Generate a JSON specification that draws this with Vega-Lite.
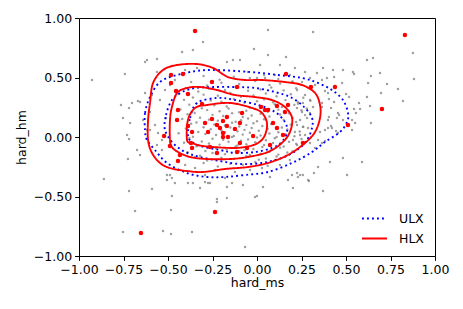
{
"$schema":"https://vega.github.io/schema/vega-lite/v6.json",
"autosize":"none","width":356,"height":238,
"padding":{"left":79,"top":18,"right":28,"bottom":53},
"background":"white",
"config":{"view":{"stroke":"black","strokeWidth":1},
"axis":{"labelFont":"DejaVu Sans","labelFontSize":12.5,"titleFont":"DejaVu Sans","titleFontSize":12.5,"titleFontWeight":"normal","labelColor":"black","titleColor":"black","tickColor":"black","domain":false,"grid":false,"tickSize":4.4,"tickWidth":1,"labelPadding":3,"labelFlush":false,"labelOverlap":false},
"legend":{"labelFont":"DejaVu Sans","labelFontSize":12.5,"labelColor":"black"}},
"datasets":{
"grey":[
{"x":-0.30,"y":0.512},{"x":-0.21,"y":0.482},{"x":-0.13,"y":0.506},{"x":-0.04,"y":0.496},{"x":0.04,"y":0.52},{"x":0.12,"y":0.488},
{"x":-0.37,"y":0.462},{"x":-0.28,"y":0.432},{"x":-0.20,"y":0.456},{"x":-0.10,"y":0.446},{"x":-0.01,"y":0.47},{"x":0.07,"y":0.438},{"x":0.13,"y":0.45},{"x":0.20,"y":0.466},
{"x":-0.40,"y":0.412},{"x":-0.33,"y":0.382},{"x":-0.27,"y":0.406},{"x":-0.18,"y":0.396},{"x":-0.12,"y":0.42},{"x":-0.05,"y":0.388},{"x":0.02,"y":0.40},{"x":0.08,"y":0.416},{"x":0.15,"y":0.392},{"x":0.22,"y":0.41},
{"x":-0.44,"y":0.362},{"x":-0.36,"y":0.332},{"x":-0.30,"y":0.356},{"x":-0.22,"y":0.346},{"x":-0.15,"y":0.37},{"x":-0.09,"y":0.338},{"x":-0.02,"y":0.35},{"x":0.05,"y":0.366},{"x":0.11,"y":0.342},{"x":0.19,"y":0.36},{"x":0.26,"y":0.33},
{"x":-0.41,"y":0.312},{"x":-0.34,"y":0.282},{"x":-0.26,"y":0.306},{"x":-0.20,"y":0.296},{"x":-0.13,"y":0.32},{"x":-0.07,"y":0.288},{"x":0.00,"y":0.30},{"x":0.04,"y":0.316},{"x":0.09,"y":0.292},{"x":0.16,"y":0.31},{"x":0.23,"y":0.28},{"x":0.30,"y":0.304},
{"x":-0.38,"y":0.272},{"x":-0.31,"y":0.242},{"x":-0.24,"y":0.266},{"x":-0.17,"y":0.256},{"x":-0.11,"y":0.28},{"x":-0.04,"y":0.248},{"x":0.03,"y":0.26},{"x":0.10,"y":0.276},{"x":0.14,"y":0.252},{"x":0.21,"y":0.27},{"x":0.28,"y":0.24},
{"x":-0.43,"y":0.232},{"x":-0.35,"y":0.202},{"x":-0.28,"y":0.226},{"x":-0.21,"y":0.216},{"x":-0.16,"y":0.24},{"x":-0.10,"y":0.208},{"x":-0.06,"y":0.22},{"x":-0.01,"y":0.236},{"x":0.06,"y":0.212},{"x":0.12,"y":0.23},{"x":0.18,"y":0.20},{"x":0.25,"y":0.224},
{"x":-0.39,"y":0.192},{"x":-0.32,"y":0.162},{"x":-0.25,"y":0.186},{"x":-0.19,"y":0.176},{"x":-0.14,"y":0.20},{"x":-0.08,"y":0.168},{"x":-0.03,"y":0.18},{"x":0.02,"y":0.196},{"x":0.07,"y":0.172},{"x":0.13,"y":0.19},{"x":0.20,"y":0.16},{"x":0.27,"y":0.184},
{"x":-0.42,"y":0.152},{"x":-0.34,"y":0.122},{"x":-0.27,"y":0.146},{"x":-0.22,"y":0.136},{"x":-0.17,"y":0.16},{"x":-0.12,"y":0.128},{"x":-0.09,"y":0.14},{"x":-0.05,"y":0.156},{"x":0.00,"y":0.132},{"x":0.04,"y":0.15},{"x":0.09,"y":0.12},{"x":0.15,"y":0.144},{"x":0.22,"y":0.126},
{"x":-0.37,"y":0.112},{"x":-0.30,"y":0.082},{"x":-0.24,"y":0.106},{"x":-0.18,"y":0.096},{"x":-0.14,"y":0.12},{"x":-0.10,"y":0.088},{"x":-0.06,"y":0.10},{"x":-0.02,"y":0.116},{"x":0.03,"y":0.092},{"x":0.08,"y":0.11},{"x":0.14,"y":0.08},{"x":0.19,"y":0.104},{"x":0.26,"y":0.086},
{"x":-0.40,"y":0.072},{"x":-0.33,"y":0.042},{"x":-0.26,"y":0.066},{"x":-0.20,"y":0.056},{"x":-0.15,"y":0.08},{"x":-0.11,"y":0.048},{"x":-0.07,"y":0.06},{"x":-0.03,"y":0.076},{"x":0.01,"y":0.052},{"x":0.06,"y":0.07},{"x":0.12,"y":0.04},{"x":0.17,"y":0.064},{"x":0.24,"y":0.046},
{"x":-0.44,"y":0.032},{"x":-0.36,"y":0.002},{"x":-0.29,"y":0.026},{"x":-0.23,"y":0.016},{"x":-0.18,"y":0.04},{"x":-0.13,"y":0.008},{"x":-0.08,"y":0.02},{"x":-0.04,"y":0.036},{"x":0.02,"y":0.012},{"x":0.07,"y":0.03},{"x":0.11,"y":0.0},{"x":0.16,"y":0.024},{"x":0.21,"y":0.006},
{"x":-0.38,"y":-0.008},{"x":-0.31,"y":-0.038},{"x":-0.25,"y":-0.014},{"x":-0.19,"y":-0.024},{"x":-0.14,"y":0.0},{"x":-0.09,"y":-0.032},{"x":-0.05,"y":-0.02},{"x":0.00,"y":-0.004},{"x":0.05,"y":-0.028},{"x":0.10,"y":-0.01},{"x":0.18,"y":-0.04},{"x":0.25,"y":-0.016},
{"x":-0.41,"y":-0.048},{"x":-0.34,"y":-0.078},{"x":-0.27,"y":-0.054},{"x":-0.21,"y":-0.064},{"x":-0.16,"y":-0.04},{"x":-0.11,"y":-0.072},{"x":-0.06,"y":-0.06},{"x":-0.01,"y":-0.044},{"x":0.04,"y":-0.068},{"x":0.09,"y":-0.05},{"x":0.15,"y":-0.08},{"x":0.22,"y":-0.056},
{"x":-0.36,"y":-0.088},{"x":-0.29,"y":-0.118},{"x":-0.23,"y":-0.094},{"x":-0.17,"y":-0.104},{"x":-0.12,"y":-0.08},{"x":-0.07,"y":-0.112},{"x":-0.02,"y":-0.10},{"x":0.03,"y":-0.084},{"x":0.08,"y":-0.108},{"x":0.13,"y":-0.09},{"x":0.20,"y":-0.12},
{"x":-0.39,"y":-0.128},{"x":-0.32,"y":-0.158},{"x":-0.25,"y":-0.134},{"x":-0.18,"y":-0.144},{"x":-0.10,"y":-0.12},{"x":-0.04,"y":-0.152},{"x":0.02,"y":-0.14},{"x":0.07,"y":-0.124},{"x":0.12,"y":-0.148},{"x":0.17,"y":-0.13},
{"x":-0.35,"y":-0.168},{"x":-0.28,"y":-0.198},{"x":-0.20,"y":-0.174},{"x":-0.13,"y":-0.184},{"x":-0.06,"y":-0.16},{"x":0.01,"y":-0.192},{"x":0.05,"y":-0.18},{"x":0.11,"y":-0.164},
{"x":-0.30,"y":-0.218},{"x":-0.22,"y":-0.248},{"x":-0.15,"y":-0.224},{"x":-0.08,"y":-0.234},{"x":-0.01,"y":-0.21},{"x":0.06,"y":-0.242},
{"x":-0.303,"y":0.798},{"x":-0.421,"y":0.714},{"x":-0.360,"y":0.731},{"x":-0.629,"y":0.630},{"x":-0.562,"y":0.655},{"x":-0.742,"y":0.529},{"x":-0.927,"y":0.479},{"x":-0.764,"y":0.269},{"x":-0.753,"y":0.160},{"x":-0.669,"y":0.303},{"x":-0.713,"y":0.118},{"x":-0.702,"y":0.286},{"x":-0.719,"y":0.244},{"x":-0.135,"y":0.647},{"x":-0.096,"y":0.647},{"x":-0.169,"y":0.630},{"x":-0.618,"y":0.647},{"x":-0.629,"y":0.370},{"x":-0.657,"y":0.294},{"x":-0.562,"y":0.546},{"x":-0.404,"y":0.563},{"x":-0.337,"y":0.580},{"x":-0.730,"y":0.017},{"x":-0.719,"y":-0.017},{"x":-0.674,"y":-0.109},{"x":-0.725,"y":-0.185},{"x":-0.860,"y":-0.353},{"x":-0.719,"y":-0.454},{"x":-0.685,"y":-0.622},{"x":-0.753,"y":-0.798},{"x":-0.657,"y":-0.151},{"x":-0.590,"y":-0.437},{"x":-0.483,"y":-0.613},{"x":-0.478,"y":-0.496},{"x":-0.528,"y":-0.790},{"x":-0.483,"y":-0.815},{"x":-0.365,"y":-0.798},{"x":-0.067,"y":-0.924},{"x":-0.506,"y":-0.319},{"x":-0.489,"y":-0.319},{"x":-0.478,"y":-0.345},{"x":-0.461,"y":-0.387},{"x":-0.506,"y":-0.361},{"x":-0.388,"y":-0.387},{"x":-0.360,"y":-0.387},{"x":-0.320,"y":-0.429},{"x":-0.292,"y":-0.378},{"x":-0.275,"y":-0.387},{"x":-0.225,"y":-0.521},{"x":-0.225,"y":-0.546},{"x":-0.264,"y":-0.387},
{"x":0.062,"y":0.899},{"x":0.315,"y":0.882},{"x":-0.017,"y":0.739},{"x":0.062,"y":0.689},{"x":0.163,"y":0.672},{"x":0.876,"y":0.706},{"x":0.618,"y":0.647},{"x":0.652,"y":0.664},{"x":0.882,"y":0.487},{"x":0.427,"y":0.563},{"x":0.483,"y":0.563},{"x":0.539,"y":0.546},{"x":0.545,"y":0.529},{"x":0.640,"y":0.513},{"x":0.691,"y":0.538},{"x":0.393,"y":0.496},{"x":0.433,"y":0.504},{"x":0.478,"y":0.454},{"x":0.624,"y":0.454},{"x":0.730,"y":0.445},{"x":0.792,"y":0.403},{"x":0.382,"y":0.387},{"x":0.404,"y":0.319},{"x":0.433,"y":0.294},{"x":0.500,"y":0.361},{"x":0.517,"y":0.336},{"x":0.573,"y":0.286},{"x":0.618,"y":0.336},{"x":0.697,"y":0.370},{"x":0.820,"y":0.303},{"x":0.365,"y":0.252},{"x":0.416,"y":0.244},{"x":0.545,"y":0.235},{"x":0.579,"y":0.235},{"x":0.556,"y":0.202},{"x":0.635,"y":0.261},{"x":0.455,"y":0.202},{"x":0.461,"y":0.185},{"x":0.404,"y":0.168},{"x":0.449,"y":0.160},{"x":0.483,"y":0.143},{"x":0.534,"y":0.143},{"x":0.551,"y":0.118},{"x":0.640,"y":0.118},{"x":0.416,"y":0.092},{"x":0.421,"y":0.076},{"x":0.399,"y":0.076},{"x":0.444,"y":0.050},{"x":0.455,"y":0.034},{"x":0.534,"y":0.059},{"x":0.354,"y":0.042},{"x":0.382,"y":-0.034},{"x":0.365,"y":-0.050},{"x":0.410,"y":-0.210},{"x":0.483,"y":-0.176},{"x":0.590,"y":-0.210},{"x":0.506,"y":-0.319},{"x":0.343,"y":-0.252},{"x":0.371,"y":-0.454},{"x":0.292,"y":-0.370},{"x":0.202,"y":-0.429},{"x":0.225,"y":-0.303},{"x":0.242,"y":-0.319},{"x":0.197,"y":-0.319},{"x":0.320,"y":-0.303},{"x":0.174,"y":-0.361},{"x":0.000,"y":-0.496},{"x":0.034,"y":-0.420},{"x":0.073,"y":-0.336},{"x":0.230,"y":-0.336},{"x":0.258,"y":-0.319},{"x":0.287,"y":-0.361},{"x":-0.079,"y":-0.403},{"x":-0.011,"y":-0.504},{"x":-0.169,"y":-0.513},{"x":-0.140,"y":-0.387},{"x":-0.169,"y":-0.420},
{"x":0.371,"y":0.580},{"x":0.337,"y":0.538},{"x":0.365,"y":0.479},{"x":0.253,"y":0.462},{"x":0.197,"y":0.462},{"x":0.225,"y":0.395},{"x":0.270,"y":0.353},{"x":0.298,"y":0.311},{"x":0.315,"y":0.252},{"x":0.258,"y":0.286},{"x":0.230,"y":0.294},{"x":0.225,"y":0.244},{"x":0.253,"y":0.210},{"x":0.298,"y":0.202},{"x":0.281,"y":0.160},{"x":0.242,"y":0.143},{"x":0.225,"y":0.101},{"x":0.258,"y":0.084},{"x":0.287,"y":0.076},{"x":0.213,"y":0.042},{"x":0.242,"y":0.017},{"x":0.270,"y":0.017},{"x":0.202,"y":-0.025},{"x":0.225,"y":-0.067},{"x":0.298,"y":-0.050},{"x":0.343,"y":-0.025},{"x":0.326,"y":-0.092},{"x":0.382,"y":0.059},{"x":0.399,"y":0.143},{"x":0.365,"y":0.286},{"x":0.399,"y":0.370},{"x":0.101,"y":0.521},{"x":0.045,"y":0.496},{"x":0.000,"y":0.496},{"x":-0.051,"y":0.546},{"x":0.326,"y":0.437},
{"x":-0.601,"y":0.210},{"x":-0.573,"y":0.101},{"x":-0.545,"y":0.311},{"x":-0.534,"y":-0.025},{"x":-0.556,"y":0.034},{"x":-0.511,"y":0.160},{"x":-0.590,"y":0.353},{"x":-0.601,"y":0.059},{"x":-0.640,"y":0.143},{"x":-0.517,"y":0.395},{"x":-0.489,"y":0.437},{"x":-0.461,"y":0.479},{"x":-0.534,"y":-0.109},{"x":-0.562,"y":-0.067},{"x":-0.618,"y":0.059},
{"x":-0.404,"y":-0.235},{"x":-0.348,"y":-0.261},{"x":-0.236,"y":-0.277},{"x":-0.124,"y":-0.294},{"x":-0.039,"y":-0.277},{"x":0.028,"y":-0.261},{"x":0.129,"y":-0.235},{"x":0.101,"y":-0.193},{"x":0.185,"y":-0.193},{"x":-0.444,"y":-0.277},{"x":-0.292,"y":-0.319},{"x":-0.180,"y":-0.345},
{"x":0.129,"y":0.605},{"x":0.213,"y":0.580},{"x":0.270,"y":0.546},{"x":0.185,"y":0.521},{"x":0.298,"y":0.496},{"x":0.017,"y":0.605}
],
"red":[
{"x":-0.348,"y":0.891},{"x":0.831,"y":0.857},{"x":-0.483,"y":0.521},{"x":-0.483,"y":0.454},{"x":-0.416,"y":0.529},{"x":-0.253,"y":0.462},{"x":-0.112,"y":0.420},{"x":0.163,"y":0.529},{"x":0.303,"y":0.420},{"x":0.438,"y":0.420},{"x":-0.455,"y":0.387},{"x":-0.388,"y":0.361},{"x":-0.309,"y":0.277},{"x":-0.444,"y":0.227},{"x":-0.449,"y":0.143},{"x":-0.388,"y":0.092},{"x":-0.292,"y":0.118},{"x":-0.253,"y":0.151},{"x":-0.225,"y":0.101},{"x":-0.191,"y":0.134},{"x":-0.208,"y":0.076},{"x":-0.169,"y":0.092},{"x":-0.124,"y":0.067},{"x":-0.275,"y":0.042},{"x":-0.191,"y":0.034},{"x":-0.163,"y":0.000},{"x":-0.522,"y":0.008},{"x":-0.084,"y":0.202},{"x":-0.022,"y":0.008},{"x":0.022,"y":0.252},{"x":0.045,"y":0.227},{"x":0.062,"y":0.227},{"x":0.112,"y":0.261},{"x":0.174,"y":0.269},{"x":0.157,"y":0.210},{"x":0.090,"y":0.118},{"x":0.112,"y":0.076},{"x":0.146,"y":0.017},{"x":0.258,"y":-0.050},{"x":0.511,"y":0.101},{"x":0.702,"y":0.235},{"x":-0.096,"y":-0.050},{"x":-0.056,"y":-0.092},{"x":-0.112,"y":-0.126},{"x":0.073,"y":-0.067},{"x":-0.365,"y":0.042},{"x":-0.371,"y":-0.050},{"x":-0.489,"y":-0.076},{"x":-0.365,"y":-0.092},{"x":-0.433,"y":-0.151},{"x":-0.444,"y":-0.202},{"x":-0.225,"y":-0.134},{"x":-0.236,"y":-0.630},{"x":-0.652,"y":-0.807},{"x":-0.191,"y":0.000},{"x":-0.264,"y":-0.084},{"x":-0.096,"y":0.118},{"x":-0.169,"y":0.168}
],
"cont":[
{"g":"ULX","l":1,"o":0,"x":-0.629,"y":0.059},{"g":"ULX","l":1,"o":1,"x":-0.629,"y":0.202},{"g":"ULX","l":1,"o":2,"x":-0.601,"y":0.336},{"g":"ULX","l":1,"o":3,"x":-0.545,"y":0.462},{"g":"ULX","l":1,"o":4,"x":-0.449,"y":0.521},{"g":"ULX","l":1,"o":5,"x":-0.281,"y":0.563},{"g":"ULX","l":1,"o":6,"x":-0.039,"y":0.546},{"g":"ULX","l":1,"o":7,"x":0.118,"y":0.521},{"g":"ULX","l":1,"o":8,"x":0.253,"y":0.496},{"g":"ULX","l":1,"o":9,"x":0.343,"y":0.454},{"g":"ULX","l":1,"o":10,"x":0.421,"y":0.395},{"g":"ULX","l":1,"o":11,"x":0.483,"y":0.311},{"g":"ULX","l":1,"o":12,"x":0.511,"y":0.202},{"g":"ULX","l":1,"o":13,"x":0.506,"y":0.126},{"g":"ULX","l":1,"o":14,"x":0.466,"y":0.042},{"g":"ULX","l":1,"o":15,"x":0.382,"y":-0.042},{"g":"ULX","l":1,"o":16,"x":0.309,"y":-0.126},{"g":"ULX","l":1,"o":17,"x":0.197,"y":-0.218},{"g":"ULX","l":1,"o":18,"x":0.062,"y":-0.294},{"g":"ULX","l":1,"o":19,"x":-0.067,"y":-0.319},{"g":"ULX","l":1,"o":20,"x":-0.180,"y":-0.336},{"g":"ULX","l":1,"o":21,"x":-0.281,"y":-0.336},{"g":"ULX","l":1,"o":22,"x":-0.393,"y":-0.303},{"g":"ULX","l":1,"o":23,"x":-0.506,"y":-0.218},{"g":"ULX","l":1,"o":24,"x":-0.573,"y":-0.109},{"g":"ULX","l":1,"o":25,"x":-0.618,"y":-0.025},
{"g":"ULX","l":2,"o":0,"x":-0.517,"y":0.059},{"g":"ULX","l":2,"o":1,"x":-0.511,"y":0.185},{"g":"ULX","l":2,"o":2,"x":-0.478,"y":0.311},{"g":"ULX","l":2,"o":3,"x":-0.421,"y":0.378},{"g":"ULX","l":2,"o":4,"x":-0.348,"y":0.412},{"g":"ULX","l":2,"o":5,"x":-0.247,"y":0.420},{"g":"ULX","l":2,"o":6,"x":-0.124,"y":0.420},{"g":"ULX","l":2,"o":7,"x":-0.011,"y":0.412},{"g":"ULX","l":2,"o":8,"x":0.101,"y":0.378},{"g":"ULX","l":2,"o":9,"x":0.197,"y":0.328},{"g":"ULX","l":2,"o":10,"x":0.270,"y":0.244},{"g":"ULX","l":2,"o":11,"x":0.309,"y":0.160},{"g":"ULX","l":2,"o":12,"x":0.309,"y":0.076},{"g":"ULX","l":2,"o":13,"x":0.281,"y":-0.025},{"g":"ULX","l":2,"o":14,"x":0.225,"y":-0.109},{"g":"ULX","l":2,"o":15,"x":0.140,"y":-0.176},{"g":"ULX","l":2,"o":16,"x":0.028,"y":-0.218},{"g":"ULX","l":2,"o":17,"x":-0.096,"y":-0.227},{"g":"ULX","l":2,"o":18,"x":-0.208,"y":-0.202},{"g":"ULX","l":2,"o":19,"x":-0.320,"y":-0.168},{"g":"ULX","l":2,"o":20,"x":-0.404,"y":-0.126},{"g":"ULX","l":2,"o":21,"x":-0.472,"y":-0.050},
{"g":"ULX","l":3,"o":0,"x":-0.388,"y":0.017},{"g":"ULX","l":3,"o":1,"x":-0.376,"y":0.160},{"g":"ULX","l":3,"o":2,"x":-0.337,"y":0.286},{"g":"ULX","l":3,"o":3,"x":-0.225,"y":0.328},{"g":"ULX","l":3,"o":4,"x":-0.124,"y":0.311},{"g":"ULX","l":3,"o":5,"x":0.006,"y":0.269},{"g":"ULX","l":3,"o":6,"x":0.101,"y":0.210},{"g":"ULX","l":3,"o":7,"x":0.157,"y":0.126},{"g":"ULX","l":3,"o":8,"x":0.169,"y":0.042},{"g":"ULX","l":3,"o":9,"x":0.140,"y":-0.042},{"g":"ULX","l":3,"o":10,"x":0.084,"y":-0.092},{"g":"ULX","l":3,"o":11,"x":-0.011,"y":-0.126},{"g":"ULX","l":3,"o":12,"x":-0.124,"y":-0.134},{"g":"ULX","l":3,"o":13,"x":-0.208,"y":-0.109},{"g":"ULX","l":3,"o":14,"x":-0.320,"y":-0.076},{"g":"ULX","l":3,"o":15,"x":-0.371,"y":-0.034},
{"g":"HLX","l":1,"o":0,"x":-0.612,"y":-0.025},{"g":"HLX","l":1,"o":1,"x":-0.612,"y":0.143},{"g":"HLX","l":1,"o":2,"x":-0.601,"y":0.286},{"g":"HLX","l":1,"o":3,"x":-0.584,"y":0.454},{"g":"HLX","l":1,"o":4,"x":-0.528,"y":0.563},{"g":"HLX","l":1,"o":5,"x":-0.449,"y":0.605},{"g":"HLX","l":1,"o":6,"x":-0.337,"y":0.613},{"g":"HLX","l":1,"o":7,"x":-0.247,"y":0.580},{"g":"HLX","l":1,"o":8,"x":-0.163,"y":0.504},{"g":"HLX","l":1,"o":9,"x":-0.067,"y":0.479},{"g":"HLX","l":1,"o":10,"x":0.028,"y":0.479},{"g":"HLX","l":1,"o":11,"x":0.157,"y":0.462},{"g":"HLX","l":1,"o":12,"x":0.253,"y":0.437},{"g":"HLX","l":1,"o":13,"x":0.326,"y":0.370},{"g":"HLX","l":1,"o":14,"x":0.354,"y":0.269},{"g":"HLX","l":1,"o":15,"x":0.354,"y":0.160},{"g":"HLX","l":1,"o":16,"x":0.326,"y":0.042},{"g":"HLX","l":1,"o":17,"x":0.270,"y":-0.050},{"g":"HLX","l":1,"o":18,"x":0.174,"y":-0.151},{"g":"HLX","l":1,"o":19,"x":0.062,"y":-0.218},{"g":"HLX","l":1,"o":20,"x":-0.051,"y":-0.252},{"g":"HLX","l":1,"o":21,"x":-0.180,"y":-0.269},{"g":"HLX","l":1,"o":22,"x":-0.303,"y":-0.294},{"g":"HLX","l":1,"o":23,"x":-0.393,"y":-0.286},{"g":"HLX","l":1,"o":24,"x":-0.489,"y":-0.261},{"g":"HLX","l":1,"o":25,"x":-0.545,"y":-0.218},{"g":"HLX","l":1,"o":26,"x":-0.590,"y":-0.134},
{"g":"HLX","l":2,"o":0,"x":-0.489,"y":-0.025},{"g":"HLX","l":2,"o":1,"x":-0.489,"y":0.143},{"g":"HLX","l":2,"o":2,"x":-0.478,"y":0.252},{"g":"HLX","l":2,"o":3,"x":-0.449,"y":0.370},{"g":"HLX","l":2,"o":4,"x":-0.393,"y":0.412},{"g":"HLX","l":2,"o":5,"x":-0.320,"y":0.420},{"g":"HLX","l":2,"o":6,"x":-0.225,"y":0.395},{"g":"HLX","l":2,"o":7,"x":-0.124,"y":0.353},{"g":"HLX","l":2,"o":8,"x":-0.011,"y":0.336},{"g":"HLX","l":2,"o":9,"x":0.084,"y":0.311},{"g":"HLX","l":2,"o":10,"x":0.157,"y":0.252},{"g":"HLX","l":2,"o":11,"x":0.197,"y":0.160},{"g":"HLX","l":2,"o":12,"x":0.185,"y":0.042},{"g":"HLX","l":2,"o":13,"x":0.140,"y":-0.050},{"g":"HLX","l":2,"o":14,"x":0.062,"y":-0.126},{"g":"HLX","l":2,"o":15,"x":-0.051,"y":-0.168},{"g":"HLX","l":2,"o":16,"x":-0.152,"y":-0.185},{"g":"HLX","l":2,"o":17,"x":-0.281,"y":-0.185},{"g":"HLX","l":2,"o":18,"x":-0.376,"y":-0.168},{"g":"HLX","l":2,"o":19,"x":-0.444,"y":-0.126},{"g":"HLX","l":2,"o":20,"x":-0.478,"y":-0.084},
{"g":"HLX","l":3,"o":0,"x":-0.393,"y":-0.025},{"g":"HLX","l":3,"o":1,"x":-0.388,"y":0.143},{"g":"HLX","l":3,"o":2,"x":-0.348,"y":0.244},{"g":"HLX","l":3,"o":3,"x":-0.281,"y":0.269},{"g":"HLX","l":3,"o":4,"x":-0.152,"y":0.286},{"g":"HLX","l":3,"o":5,"x":-0.028,"y":0.244},{"g":"HLX","l":3,"o":6,"x":0.028,"y":0.202},{"g":"HLX","l":3,"o":7,"x":0.056,"y":0.118},{"g":"HLX","l":3,"o":8,"x":0.045,"y":0.017},{"g":"HLX","l":3,"o":9,"x":0.006,"y":-0.050},{"g":"HLX","l":3,"o":10,"x":-0.067,"y":-0.084},{"g":"HLX","l":3,"o":11,"x":-0.152,"y":-0.092},{"g":"HLX","l":3,"o":12,"x":-0.303,"y":-0.076},{"g":"HLX","l":3,"o":13,"x":-0.365,"y":-0.050}
]},
"layer":[
{"data":{"name":"grey"},"mark":{"type":"circle","size":6,"color":"#808080","opacity":0.75},
 "encoding":{"x":{"field":"x","type":"quantitative","scale":{"domain":[-1,1],"nice":false,"zero":false},"axis":{"title":"hard_ms","values":[-1,-0.75,-0.5,-0.25,0,0.25,0.5,0.75,1],"format":".2f","titlePadding":1}},
 "y":{"field":"y","type":"quantitative","scale":{"domain":[-1,1],"nice":false,"zero":false},"axis":{"title":"hard_hm","values":[-1,-0.75,-0.5,-0.25,0,0.25,0.5,0.75,1],"format":".2f","titlePadding":5}}}},
{"data":{"name":"cont"},"mark":{"type":"line","interpolate":"cardinal-closed","strokeWidth":1.9,"strokeCap":"butt"},
 "encoding":{"x":{"field":"x","type":"quantitative"},"y":{"field":"y","type":"quantitative"},
 "detail":{"field":"l"},"order":{"field":"o"},
 "color":{"field":"g","type":"nominal","scale":{"domain":["ULX","HLX"],"range":["#0000ff","#ff0000"]},"legend":{"title":null,"orient":"bottom-right","offset":11,"padding":0,"symbolType":"stroke","symbolSize":625,"symbolStrokeWidth":1.9,"labelOffset":11,"rowPadding":-7}},
 "strokeDash":{"field":"g","type":"nominal","scale":{"domain":["ULX","HLX"],"range":[[1.9,3.1],[1,0]]},"legend":{"title":null,"orient":"bottom-right","offset":11,"padding":0,"symbolType":"stroke","symbolSize":625,"symbolStrokeWidth":1.9,"labelOffset":11,"rowPadding":-7}}}},
{"data":{"name":"red"},"mark":{"type":"circle","size":20,"color":"#ff0000","opacity":1},
 "encoding":{"x":{"field":"x","type":"quantitative"},"y":{"field":"y","type":"quantitative"}}}
]}
